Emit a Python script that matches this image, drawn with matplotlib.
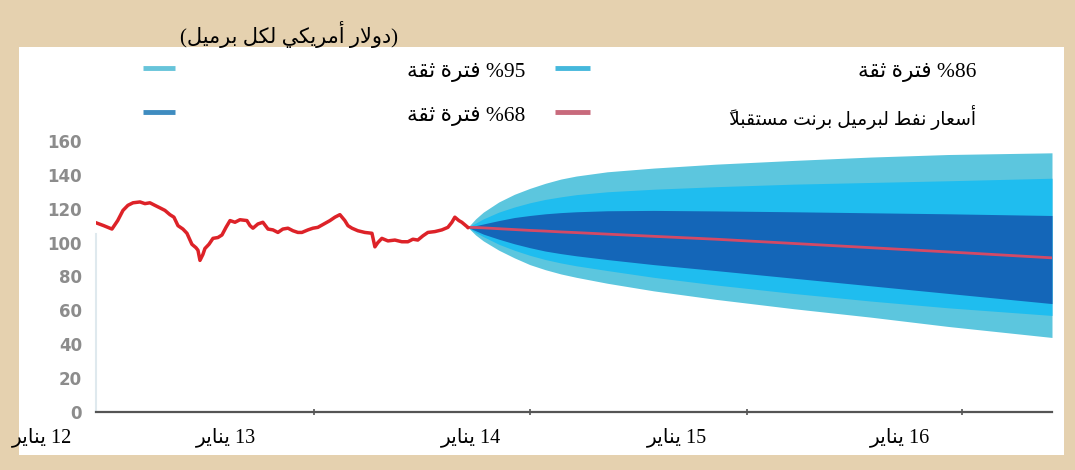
import matplotlib
matplotlib.use("Agg")
import matplotlib.pyplot as plt
from matplotlib.lines import Line2D
from matplotlib.patches import Rectangle

# ---------------- data ----------------
# months counted from January 2012
hist_months = [0.06, 0.5, 1.03, 1.4, 1.74, 2.06, 2.39, 2.84, 3.16, 3.48, 3.8, 4.13, 4.45,
               4.77, 5.03, 5.29, 5.61, 5.87, 6.19, 6.45, 6.58, 6.71, 6.9, 7.03, 7.29, 7.55,
               7.87, 8.13, 8.39, 8.65, 8.97, 9.29, 9.74, 9.94, 10.13, 10.45, 10.77, 11.1,
               11.42, 11.74, 12.06, 12.39, 12.71, 13.03, 13.29, 13.68, 14.0, 14.32, 14.71,
               15.1, 15.42, 15.74, 16.06, 16.26, 16.52, 16.9, 17.35, 17.81, 18.0, 18.19,
               18.45, 18.84, 19.29, 19.74, 20.13, 20.45, 20.77, 21.1, 21.42, 21.87, 22.32,
               22.71, 22.97, 23.16, 23.42, 23.61, 23.87, 24.0]
hist_price = [111.5, 110, 108, 113, 119, 122, 123.5, 124, 123, 123.5, 122, 120.5, 119,
              116.5, 115, 110, 108, 105.5, 99, 97, 95.5, 89.5, 93, 96.5, 99, 102.5,
              103, 104.5, 109, 113, 112, 113.5, 113, 110, 108.5, 111, 112, 108,
              107.5, 106, 108, 108.5, 107, 106, 106, 107.5, 108.5, 109, 111,
              113, 115, 116.5, 113, 110, 108.5, 107, 106, 105.5, 97.5, 100,
              102.5, 101, 101.5, 100.5, 100.5, 102, 101.5, 104, 106, 106.5, 107.5,
              109, 112, 115, 113, 112, 110, 109]

fc_months = [24, 24.5, 25, 26, 27, 28, 29, 30, 31, 33, 36, 40, 45, 50, 55, 61.7]
fc_median = [109, 108.9, 108.7, 108.2, 107.7, 107.2, 106.8, 106.3, 105.9, 105, 103.7,
             102, 99.5, 97, 94.5, 91]
fc_hi95 = [109, 114, 118, 124, 128.5, 132, 135, 137.5, 139.3, 141.8, 144, 146.3, 148.5,
           150.5, 152, 153]
fc_hi86 = [109, 111.5, 114, 118, 121, 123.5, 125.5, 127, 128.3, 130, 131.5, 133, 134.5,
           135.5, 136.5, 138]
fc_hi68 = [109, 110, 111, 113, 114.8, 116, 117, 117.7, 118.2, 118.8, 119, 118.7, 118.2,
           117.6, 117, 116]
fc_lo68 = [109, 107, 105, 102, 99.3, 97, 95, 93.5, 92.2, 90, 87, 83.5, 79, 74.5, 70, 64]
fc_lo86 = [109, 106, 103.5, 99, 95.5, 92.5, 90, 88, 86.3, 83.5, 79.5, 75, 70, 65.5, 61.5, 57]
fc_lo95 = [109, 104.5, 101, 95.5, 91, 87, 84, 81.5, 79.5, 76, 71.5, 66.5, 61, 56, 50.5, 44]

yticks = [0, 20, 40, 60, 80, 100, 120, 140, 160]
xtick_marks = [14.1, 28.0, 42.0, 55.9]
xlabel_pos = [-3.5, 8.4, 24.2, 37.5, 51.9]
xlabel_years = ["12", "13", "14", "15", "16"]
month_word = "يناير"
title_text = "(دولار أمريكي لكل برميل)"
ci_word = "فترة ثقة"
lbl_95, lbl_86, lbl_68 = "95", "86", "68"
lbl_brent = "أسعار نفط لبرميل برنت مستقبلاً"

# ---------------- Arabic shaping (presentation forms, visual order) ----------------
_DUAL = {'ئ': 0xFE89, 'ب': 0xFE8F, 'ت': 0xFE95, 'ث': 0xFE99, 'ج': 0xFE9D, 'ح': 0xFEA1,
         'خ': 0xFEA5, 'س': 0xFEB1, 'ش': 0xFEB5, 'ص': 0xFEB9, 'ض': 0xFEBD, 'ط': 0xFEC1,
         'ظ': 0xFEC5, 'ع': 0xFEC9, 'غ': 0xFECD, 'ف': 0xFED1, 'ق': 0xFED5, 'ك': 0xFED9,
         'ل': 0xFEDD, 'م': 0xFEE1, 'ن': 0xFEE5, 'ه': 0xFEE9, 'ي': 0xFEF1}
_RIGHT = {'آ': 0xFE81, 'أ': 0xFE83, 'ؤ': 0xFE85, 'إ': 0xFE87, 'ا': 0xFE8D, 'ة': 0xFE93,
          'د': 0xFEA9, 'ذ': 0xFEAB, 'ر': 0xFEAD, 'ز': 0xFEAF, 'و': 0xFEED, 'ى': 0xFEEF}
_LAMALEF = {'آ': 0xFEF5, 'أ': 0xFEF7, 'إ': 0xFEF9, 'ا': 0xFEFB}
_MARKS = set(chr(c) for c in range(0x064B, 0x0653))


def shape_ar(s):
    units = []
    i = 0
    while i < len(s):
        ch = s[i]
        if ch in _MARKS and units:
            units[-1][2] += ch
            i += 1
            continue
        if ch == 'ل' and i + 1 < len(s) and s[i + 1] in _LAMALEF:
            units.append([_LAMALEF[s[i + 1]], 'R', ''])
            i += 2
            continue
        if ch in _DUAL:
            units.append([_DUAL[ch], 'D', ''])
        elif ch in _RIGHT:
            units.append([_RIGHT[ch], 'R', ''])
        else:
            units.append([ch, 'N', ''])
        i += 1
    out = []
    for k, (b, kind, m) in enumerate(units):
        if kind == 'N':
            out.append(m + {'(': ')', ')': '('}.get(b, b))
            continue
        jp = k > 0 and units[k - 1][1] == 'D'
        jn = kind == 'D' and k + 1 < len(units) and units[k + 1][1] in 'DR'
        if kind == 'D':
            off = 3 if (jp and jn) else 1 if jp else 2 if jn else 0
        else:
            off = 1 if jp else 0
        out.append(m + chr(b + off))
    return ''.join(reversed(out))


# ---------------- figure ----------------
W, H = 1075, 470
fig = plt.figure(figsize=(W / 100, H / 100), dpi=100)
fig.patch.set_facecolor('#e5d1af')

fig.patches.append(Rectangle((19 / W, 1 - 455 / H), (1064 - 19) / W, (455 - 47) / H,
                             transform=fig.transFigure, facecolor='white',
                             edgecolor='none', zorder=-5))

TXT = ['Liberation Serif', 'DejaVu Sans']

ax = fig.add_axes([96 / W, 58 / H, 956 / W, 165 * 1.694 / H])
ax.set_zorder(1)
ax.set_facecolor('none')
ax.set_xlim(0, 61.7)
ax.set_ylim(0, 165)

ax.fill_between(fc_months, fc_lo95, fc_hi95, color='#5cc6de', lw=0, zorder=2)
ax.fill_between(fc_months, fc_lo86, fc_hi86, color='#1fbdef', lw=0, zorder=3)
ax.fill_between(fc_months, fc_lo68, fc_hi68, color='#1466b8', lw=0, zorder=4)
ax.plot(fc_months, fc_median, color='#d44a66', lw=2, zorder=5)
ax.plot(hist_months, hist_price, color='#dd2228', lw=2.5, zorder=6,
        solid_joinstyle='round')

for s in ['top', 'right']:
    ax.spines[s].set_visible(False)
ax.spines['left'].set_color('#dfe9ee')
ax.spines['left'].set_linewidth(1.5)
ax.spines['left'].set_bounds(0, 105)
ax.spines['bottom'].set_color('#555555')
ax.spines['bottom'].set_linewidth(1.6)

ax.set_yticks(yticks)
ax.set_yticklabels([str(v) for v in yticks], fontfamily='DejaVu Sans',
                   fontweight='bold', fontsize=12, color='#8c8c8c')
ax.tick_params(axis='y', length=0, pad=10)
ax.set_xticks(xtick_marks)
ax.set_xticklabels([])
ax.tick_params(axis='x', length=4, width=1.2, color='#555555', direction='inout')

for xp, yr in zip(xlabel_pos, xlabel_years):
    ax.text(xp, -25 / (165 * 1.694), shape_ar(month_word) + " " + yr,
            transform=ax.get_xaxis_transform(), ha='center', va='center',
            fontsize=14.5, family=TXT, clip_on=False)

# title
fig.text(289 / W, 1 - 35 / H, shape_ar(title_text), ha='center', va='center',
         fontsize=15, family=TXT)

# legend
leg = [
    (143, 175, 68, '#67c4da', 525, shape_ar(ci_word) + " %" + lbl_95, 15.5),
    (143, 175, 112, '#3f8cc0', 525, shape_ar(ci_word) + " %" + lbl_68, 15.5),
    (555, 590, 68, '#45b8dc', 976, shape_ar(ci_word) + " %" + lbl_86, 15.5),
    (555, 590, 112, '#c86a7c', 976, shape_ar(lbl_brent), 13.5),
]
for x0, x1, yy, col, xt, txt, fs in leg:
    fig.add_artist(Line2D([x0 / W, x1 / W], [1 - yy / H, 1 - yy / H], color=col, lw=3.5,
                          transform=fig.transFigure, solid_capstyle='butt'))
    fig.text(xt / W, 1 - (yy + 5) / H, txt, ha='right', va='center', fontsize=fs,
             family=TXT)

fig.savefig('out.png', dpi=100, facecolor=fig.get_facecolor())
